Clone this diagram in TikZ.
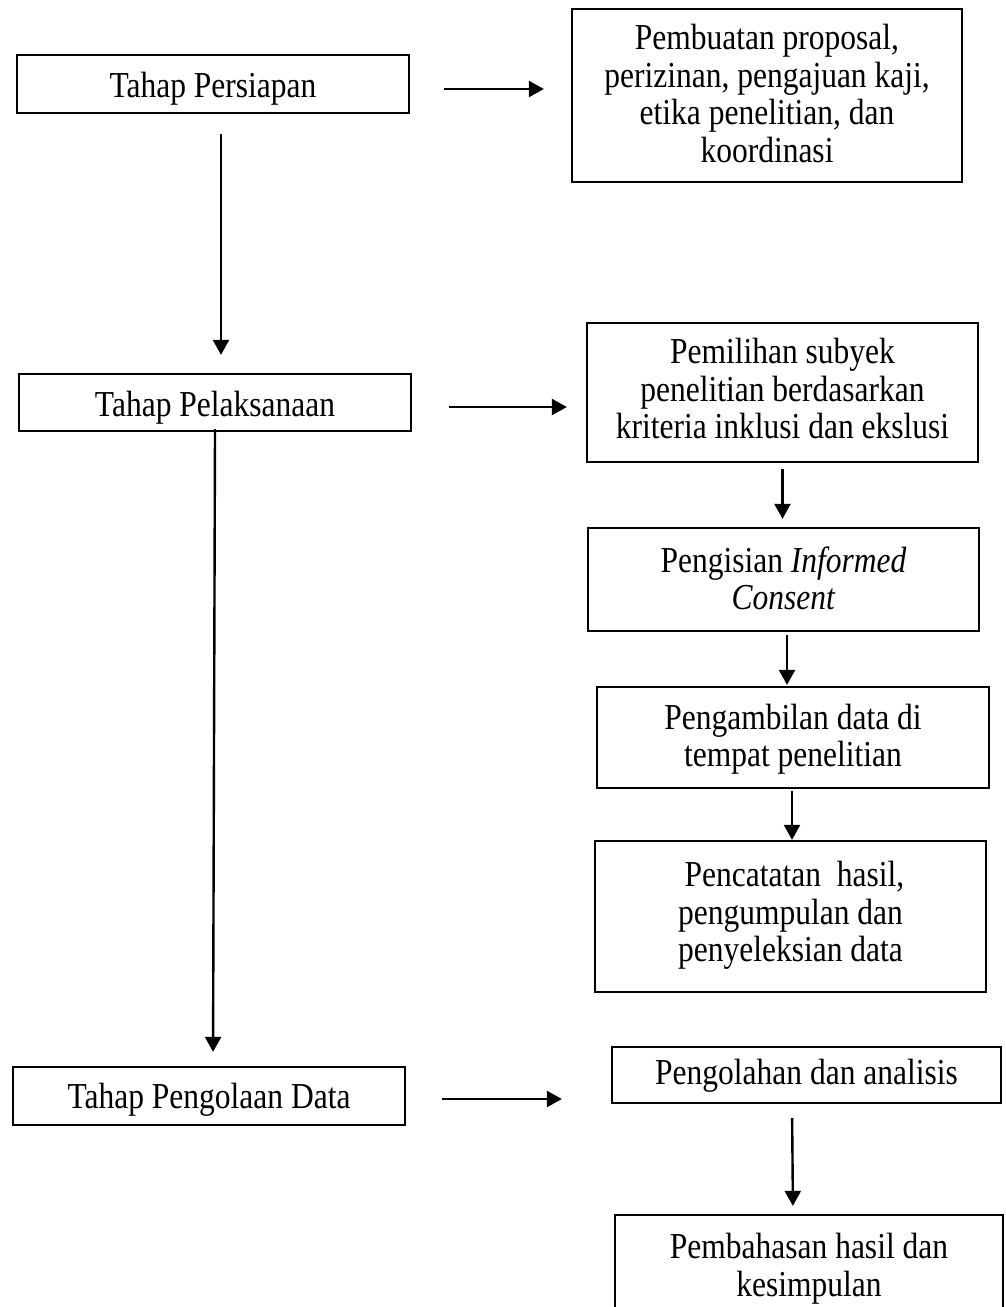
\documentclass[tikz,border=0pt]{standalone}
\usepackage{fontspec}
\usepackage{graphicx}
\setmainfont{Liberation Serif}
\usetikzlibrary{arrows.meta}
\newcommand{\stt}[1]{\scalebox{1}[1.16]{\begin{tabular}{@{}c@{}}#1\end{tabular}}}
\newcommand{\low}[2]{\raisebox{#1}[\height][\depth]{#2}}
\begin{document}
\begin{tikzpicture}[x=1pt,y=-1pt,
  box/.style={draw, line width=2.3pt, inner sep=0pt,
    font=\fontsize{31.5}{32.3}\selectfont},
  arr/.style={line width=2.4pt, -{Triangle[length=15pt,width=16pt]}}]
\useasboundingbox (0,0) rectangle (1005,1307);
\clip (0,0) rectangle (1005,1307);
% left column
\node[box, minimum width=392pt, minimum height=58pt] (b1) at (213,84) {\low{-6pt}{\stt{Tahap Persiapan}}};
\node[box, minimum width=392pt, minimum height=57pt] (b3) at (215,402.5) {\low{-6pt}{\stt{Tahap Pelaksanaan}}};
\node[box, minimum width=392pt, minimum height=58pt] (b8) at (209,1096) {\low{-5pt}{\stt{Tahap Pengolaan Data}}};
% right column
\node[box, minimum width=390pt, minimum height=173pt] (b2) at (767,95.5)
  {\low{-3pt}{\stt{Pembuatan proposal,\\ perizinan, pengajuan kaji,\\ etika penelitian, dan\\ koordinasi}}};
\node[box, minimum width=391pt, minimum height=139pt] (b4) at (782.5,392.5)
  {\low{-1pt}{\stt{Pemilihan subyek\\ penelitian berdasarkan\\ kriteria inklusi dan ekslusi}}};
\node[box, minimum width=391pt, minimum height=103pt] (b5) at (783.5,579.5)
  {\low{-4pt}{\stt{Pengisian \textit{Informed}\\ \textit{Consent}}}};
\node[box, minimum width=392pt, minimum height=101pt] (b6) at (793,737.5)
  {\low{-3pt}{\stt{Pengambilan data di\\ tempat penelitian}}};
\node[box, minimum width=391pt, minimum height=151pt] (b7) at (790.5,916.5)
  {\stt{\ Pencatatan\ \ hasil,\\ pengumpulan dan\\ penyeleksian data}};
\node[box, minimum width=389pt, minimum height=56pt] (b9) at (806.5,1075)
  {\low{-2pt}{\stt{Pengolahan dan analisis}}};
\node[box, minimum width=388pt, minimum height=102pt] (b10) at (809,1266)
  {\low{-4pt}{\stt{Pembahasan hasil dan\\ kesimpulan}}};
% connectors
\draw[arr, shorten <=34pt, shorten >=27pt] ([yshift=-5pt]b1.east) -- ([yshift=-5pt]b1.east -| b2.west);
\draw[arr, shorten <=20pt, shorten >=18pt] ([xshift=8pt]b1.south) -- ([xshift=8pt]b1.south |- b3.north);
\draw[arr, shorten <=37pt, shorten >=19pt] ([yshift=-4.5pt]b3.east) -- ([yshift=-4.5pt]b3.east -| b4.west);
\draw[arr, shorten <=-3pt, shorten >=14pt] (b3.south) -- ([xshift=4pt]b8.north);
\draw[arr, shorten <=6pt, shorten >=8pt] (b4.south) -- (b4.south |- b5.north);
\draw[arr, shorten <=3pt, shorten >=1pt] ([xshift=3.5pt]b5.south) -- ([xshift=3.5pt]b5.south |- b6.north);
\draw[arr, shorten <=2pt, shorten >=0pt] ([xshift=-1pt]b6.south) -- ([xshift=-1pt]b6.south |- b7.north);
\draw[arr, shorten <=36pt, shorten >=49pt] ([yshift=-3pt]b8.east) -- ([yshift=-3pt]b8.east -| b9.west);
\draw[arr, shorten <=14pt, shorten >=8pt] ([xshift=-14.5pt]b9.south) -- ([xshift=-16pt]b10.north);
\end{tikzpicture}
\end{document}
